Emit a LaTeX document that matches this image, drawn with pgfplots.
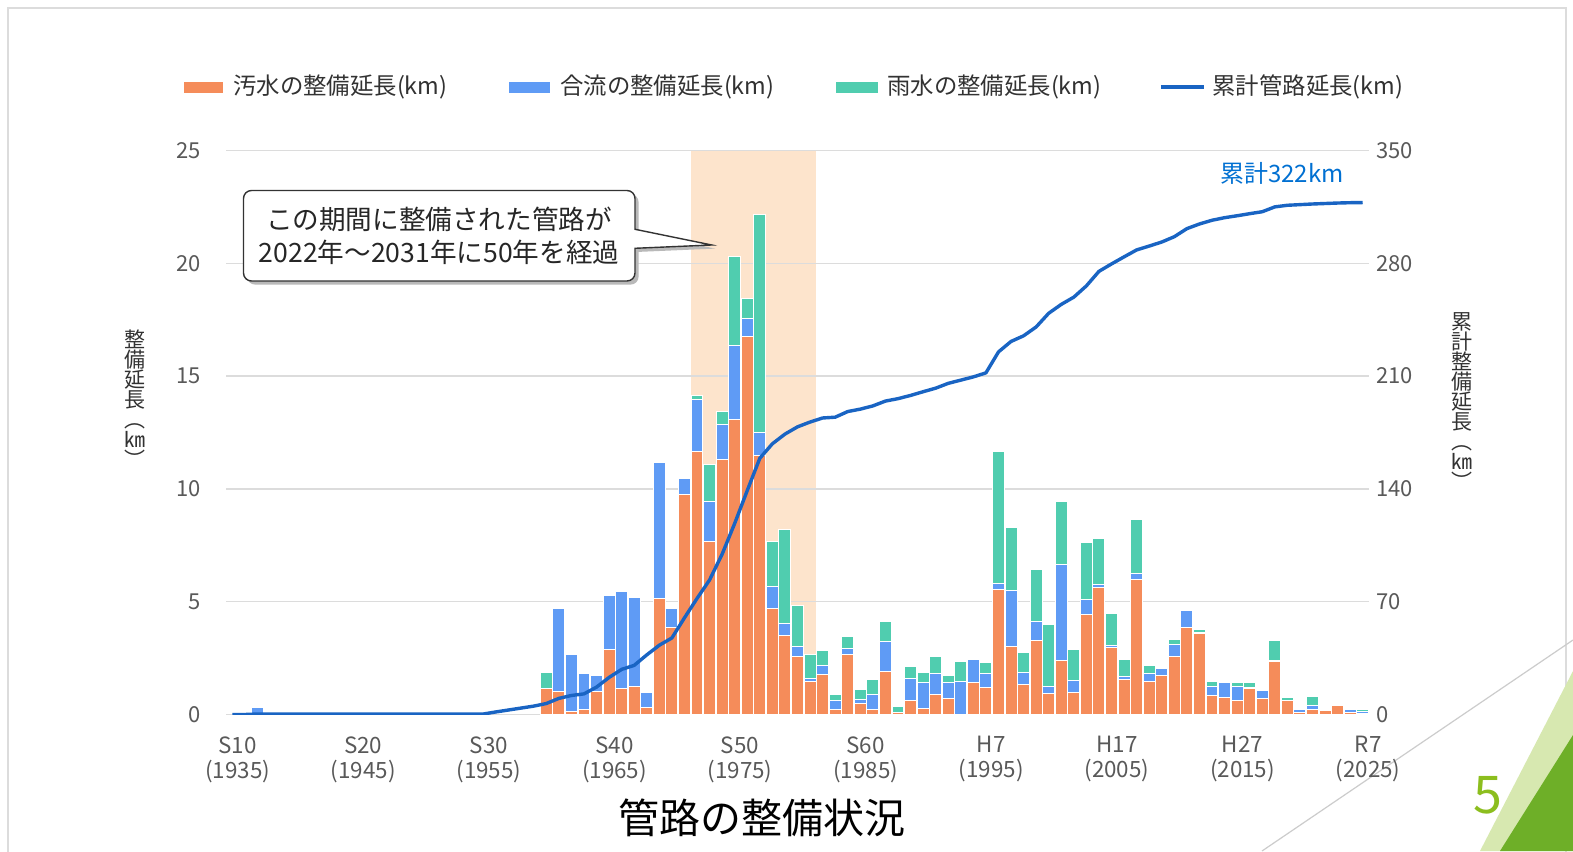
\documentclass[border=0pt]{standalone}
\usepackage{pgfplots}
\pgfplotsset{compat=1.18}
\usepackage{pgfplotstable}
\usepackage{fontspec}
\setmainfont{Noto Sans CJK JP}
\definecolor{cSew}{RGB}{245,140,90}
\definecolor{cComb}{RGB}{95,155,245}
\definecolor{cRain}{RGB}{80,205,175}
\definecolor{cLine}{RGB}{25,100,195}
\definecolor{cHi}{RGB}{253,228,204}
\definecolor{cGrid}{RGB}{220,220,220}
\definecolor{cTick}{RGB}{89,89,89}
\definecolor{cTxt}{RGB}{50,50,50}
\definecolor{cLbl}{RGB}{0,112,210}
\definecolor{cGreen}{RGB}{140,190,30}
\definecolor{cGreenD}{RGB}{110,175,40}

\pgfplotstableread{
year sew comb rain
1937 0 0.3 0
1960 1.15 0 0.7
1961 1.0 3.7 0
1962 0.13 2.55 0
1963 0.23 1.6 0
1964 1.0 0.73 0
1965 2.86 2.41 0
1966 1.16 4.28 0
1967 1.26 3.92 0
1968 0.3 0.68 0
1969 5.15 6.02 0
1970 3.86 0.84 0
1971 9.77 0.7 0
1972 11.65 2.31 0.2
1973 7.66 1.78 1.62
1974 11.31 1.55 0.56
1975 13.08 3.29 3.95
1976 16.74 0.82 0.88
1977 11.5 1.0 9.68
1978 4.70 0.96 2.0
1979 3.48 0.56 4.18
1980 2.59 0.41 1.82
1981 1.46 0.14 1.04
1982 1.78 0.38 0.67
1983 0.2 0.44 0.23
1984 2.67 0.26 0.52
1985 0.47 0.2 0.42
1986 0.23 0.66 0.67
1987 1.9 1.33 0.88
1988 0.08 0 0.27
1989 0.61 0.99 0.52
1990 0.27 1.14 0.44
1991 0.89 0.93 0.74
1992 0.69 0.72 0.30
1993 0 1.48 0.86
1994 1.44 1.0 0
1995 1.2 0.62 0.48
1996 5.56 0.25 5.84
1997 3.03 2.45 2.81
1998 1.31 0.54 0.89
1999 3.30 0.81 2.32
2000 0.91 0.35 2.75
2001 2.41 4.24 2.81
2002 0.98 0.52 1.39
2003 4.44 0.66 2.53
2004 5.64 0.14 2.03
2005 2.99 0.05 1.44
2006 1.53 0.15 0.76
2007 6.0 0.27 2.38
2008 1.45 0.37 0.33
2009 1.72 0.33 0
2010 2.56 0.56 0.21
2011 3.85 0.74 0
2012 3.57 0.06 0.14
2013 0.83 0.40 0.25
2014 0.76 0.66 0.03
2015 0.64 0.62 0.15
2016 1.16 0.05 0.20
2017 0.69 0.37 0
2018 2.34 0.05 0.91
2019 0.64 0 0.12
2020 0.08 0.15 0
2021 0.2 0.18 0.41
2022 0.16 0 0
2023 0.39 0 0
2024 0.08 0.12 0
2025 0.05 0.08 0.07
}\bars

\pgfplotstableread{
year cum
1935 0
1936 0
1937 0.3
1955 0.3
1956 1.6
1957 2.8
1958 4.0
1959 5.2
1960 6.8
1961 10.0
1962 11.8
1963 12.8
1964 17
1965 23
1966 28
1967 30.5
1968 37
1969 43
1970 47.5
1971 60
1972 72
1973 83.5
1974 99.5
1975 118.6
1976 139
1977 159
1978 168
1979 174
1980 178.5
1981 181.5
1982 184
1983 184.5
1984 188
1985 189.5
1986 191.5
1987 194.5
1988 196
1989 198
1990 200.3
1991 202.5
1992 205.5
1993 207.5
1994 209.5
1995 212
1996 225
1997 231.5
1998 235
1999 240.5
2000 249
2001 254.5
2002 259
2003 266
2004 275
2005 279.6
2006 284
2007 288.3
2008 290.7
2009 293.2
2010 296.5
2011 301.5
2012 304.4
2013 306.7
2014 308.3
2015 309.5
2016 310.8
2017 312
2018 315
2019 316
2020 316.4
2021 316.8
2022 317.1
2023 317.4
2024 317.6
2025 317.7
}\cum

\begin{document}
\begin{tikzpicture}
\path[use as bounding box, fill=white] (0pt,0pt) rectangle (786.5pt,425.5pt);
% slide frame
\draw[cGrid, line width=1pt] (4pt,-5pt) -- (4pt,421.5pt) -- (783pt,421.5pt) -- (783pt,-5pt);
% decoration bottom right
\draw[gray!40, line width=0.6pt] (631pt,0pt) -- (786.5pt,105.5pt);
\fill[cGreen!35] (740pt,0pt) -- (786.5pt,90pt) -- (786.5pt,0pt) -- cycle;
\fill[cGreenD] (750pt,0pt) -- (786.5pt,58pt) -- (786.5pt,0pt) -- cycle;
\node[font=\fontsize{26}{30}\selectfont, text=cGreen] at (743.9pt,27.7pt) {5};

% highlight band
\fill[cHi] (345.37pt,68.25pt) rectangle (408.17pt,350.25pt);

\begin{axis}[
  at={(113pt,68.25pt)}, anchor=south west,
  scale only axis, width=571.5pt, height=282pt,
  xmin=1934.5, xmax=2025.5, ymin=0, ymax=25,
  ybar stacked, bar width=0.95,
  axis line style={draw=none},
  major tick style={draw=none},
  ymajorgrids, major grid style={cGrid, line width=0.75pt},
  ytick={0,5,...,25},
  xtick={1935,1945,...,2025},
  xticklabels={{S10\\(1935)},{S20\\(1945)},{S30\\(1955)},{S40\\(1965)},{S50\\(1975)},{S60\\(1985)},{H7\\(1995)},{H17\\(2005)},{H27\\(2015)},{R7\\(2025)}},
  xticklabel style={align=center, font=\fontsize{11.2}{12.5}\selectfont, text=cTick, xshift=2.7pt, yshift=-7.5pt},
  yticklabel style={font=\fontsize{11}{13}\selectfont, text=cTick, xshift=-9pt},
  /pgf/number format/assume math mode=true,
  clip=false,
]
\addplot[fill=cSew, draw=white, line width=0.5pt] table[x=year,y=sew]{\bars};
\addplot[fill=cComb, draw=white, line width=0.5pt] table[x=year,y=comb]{\bars};
\addplot[fill=cRain, draw=white, line width=0.5pt] table[x=year,y=rain]{\bars};
\end{axis}

\begin{axis}[
  at={(113pt,68.25pt)}, anchor=south west,
  scale only axis, width=571.5pt, height=282pt,
  xmin=1934.5, xmax=2025.5, ymin=0, ymax=350,
  axis y line*=right, hide x axis,
  axis line style={draw=none}, major tick style={draw=none},
  ytick={0,70,...,350},
  yticklabel style={font=\fontsize{11}{13}\selectfont, text=cTick},
  /pgf/number format/assume math mode=true,
]
\addplot[cLine, line width=1.7pt, mark=none, line join=round] table[x=year,y=cum]{\cum};
\end{axis}

% legend
\fill[cSew] (91.8pt,379.2pt) rectangle (111.4pt,384.6pt);
\node[anchor=west, inner sep=0pt, font=\fontsize{11.7}{13}\selectfont, text=cTxt] at (116.4pt,381.9pt) {汚水の整備延長(km)};
\fill[cComb] (254.3pt,379.2pt) rectangle (274.9pt,384.6pt);
\node[anchor=west, inner sep=0pt, font=\fontsize{11.7}{13}\selectfont, text=cTxt] at (279.9pt,381.9pt) {合流の整備延長(km)};
\fill[cRain] (417.8pt,379.2pt) rectangle (438.9pt,384.6pt);
\node[anchor=west, inner sep=0pt, font=\fontsize{11.7}{13}\selectfont, text=cTxt] at (443.4pt,381.9pt) {雨水の整備延長(km)};
\draw[cLine, line width=1.8pt] (580.4pt,381.9pt) -- (601.9pt,381.9pt);
\node[anchor=west, inner sep=0pt, font=\fontsize{11.7}{13}\selectfont, text=cTxt] at (606pt,381.9pt) {累計管路延長(km)};

% axis titles (vertical)
\node[font=\fontsize{10.5}{10}\selectfont, text=cTxt, align=center, inner sep=0pt] at (67.5pt,226pt) {整\\備\\延\\長\\︵\\㎞\\︶};
\node[font=\fontsize{10.5}{10}\selectfont, text=cTxt, align=center, inner sep=0pt] at (731pt,225pt) {累\\計\\整\\備\\延\\長\\︵\\㎞\\︶};

% total label
\node[font=\fontsize{12}{14}\selectfont, text=cLbl] at (641pt,338.7pt) {累計322km};

% callout
\begin{scope}[shift={(1.8pt,-1.8pt)}]
\fill[gray!55] (317.5pt,310.85pt) {[rounded corners=4pt] -- (317.5pt,330.25pt) -- (121.75pt,330.25pt) -- (121.75pt,285pt) -- (317.5pt,285pt)} -- (317.5pt,301.35pt) -- (355.85pt,303pt) -- cycle;
\end{scope}
\draw[fill=white, draw=black!80, line width=0.7pt] (317.5pt,310.85pt) {[rounded corners=4pt] -- (317.5pt,330.25pt) -- (121.75pt,330.25pt) -- (121.75pt,285pt) -- (317.5pt,285pt)} -- (317.5pt,301.35pt) -- (355.85pt,303pt) -- cycle;
\node[font=\fontsize{13.3}{15}\selectfont, text=black!85] at (219.5pt,316pt) {この期間に整備された管路が};
\node[font=\fontsize{13.3}{15}\selectfont, text=black!85] at (219.5pt,299.5pt) {2022年～2031年に50年を経過};

% title
\node[font=\fontsize{20.5}{24}\selectfont, text=black] at (381.2pt,16.7pt) {管路の整備状況};
\end{tikzpicture}
\end{document}
